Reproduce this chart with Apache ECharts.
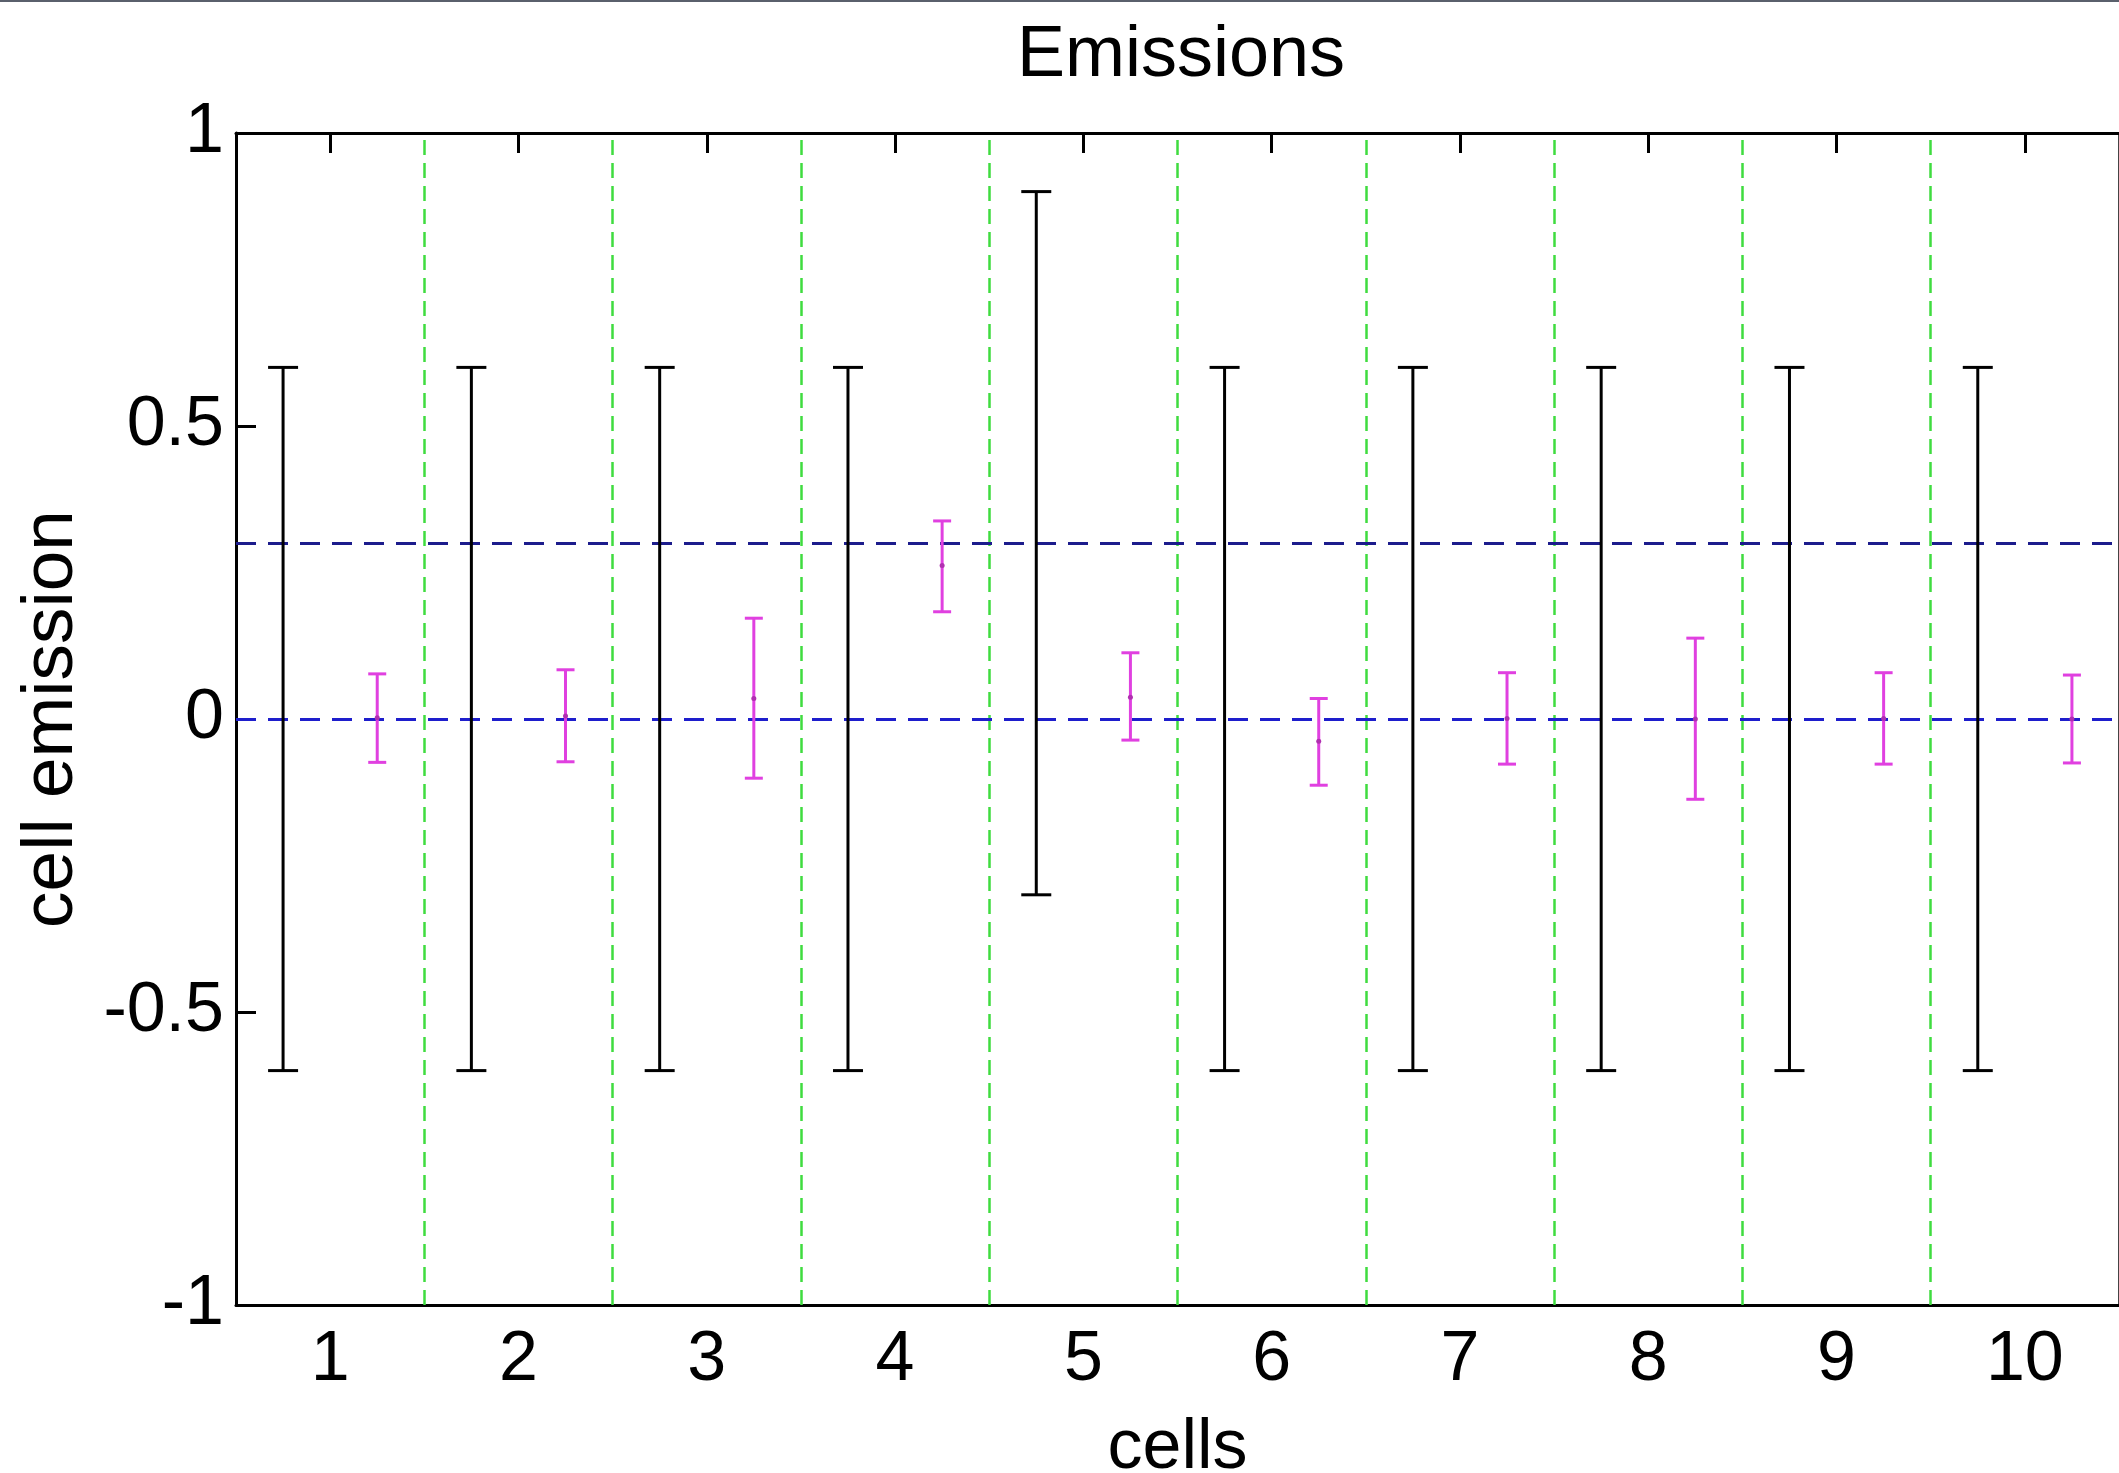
<!DOCTYPE html>
<html>
<head>
<meta charset="utf-8">
<script src="https://cdn.jsdelivr.net/npm/echarts@6/dist/echarts.min.js"></script>
<style>
  html, body { margin: 0; padding: 0; background: #ffffff; }
  #chart { width: 2119px; height: 1473px; }
</style>
</head>
<body>
<div id="chart"></div>
<script>
// ---- data ----
const cells = [1, 2, 3, 4, 5, 6, 7, 8, 9, 10];
const yTicks = [-1, -0.5, 0, 0.5, 1];
// prior ranges (black bars)
const priorLow  = [-0.6, -0.6, -0.6, -0.6, -0.3, -0.6, -0.6, -0.6, -0.6, -0.6];
const priorHigh = [ 0.6,  0.6,  0.6,  0.6,  0.9,  0.6,  0.6,  0.6,  0.6,  0.6];
// estimated emissions (magenta bars)
const estMean = [0.002, 0.005, 0.035, 0.262, 0.037, -0.038, 0.001, 0.000, 0.001, 0.000];
const estLow  = [-0.074, -0.073, -0.101, 0.183, -0.036, -0.113, -0.077, -0.137, -0.077, -0.075];
const estHigh = [ 0.077,  0.084,  0.172, 0.338,  0.113,  0.035,  0.079,  0.138,  0.079,  0.075];
// reference lines
const cellBoundaries = [1.5, 2.5, 3.5, 4.5, 5.5, 6.5, 7.5, 8.5, 9.5];
const trueLevel = 0.3;
const zeroLevel = 0;

const FONT = '"Liberation Sans", Arial, Helvetica, sans-serif';

const priorData = cells.map((c, i) => [c, priorLow[i], priorHigh[i]]);
const estData = cells.map((c, i) => [c, estLow[i], estHigh[i], estMean[i]]);

function barRenderer(offset, capHalf, color, width, withDot) {
  return function (params, api) {
    const x = api.value(0) + offset;
    const lo = api.coord([x, api.value(1)]);
    const hi = api.coord([x, api.value(2)]);
    const st = { stroke: color, lineWidth: width, fill: null };
    const children = [
      { type: 'line', shape: { x1: lo[0], y1: lo[1], x2: hi[0], y2: hi[1] }, style: st },
      { type: 'line', shape: { x1: hi[0] - capHalf, y1: hi[1], x2: hi[0] + capHalf, y2: hi[1] }, style: st },
      { type: 'line', shape: { x1: lo[0] - capHalf, y1: lo[1], x2: lo[0] + capHalf, y2: lo[1] }, style: st }
    ];
    if (withDot) {
      const m = api.coord([x, api.value(3)]);
      children.push({ type: 'circle', shape: { cx: m[0], cy: m[1], r: 2.5 }, style: { fill: '#b030b0' } });
    }
    return { type: 'group', children: children };
  };
}

const chart = echarts.init(document.getElementById('chart'));
chart.setOption({
  animation: false,
  backgroundColor: '#ffffff',
  title: {
    text: 'Emissions',
    left: 1012,
    top: 15,
    textStyle: { fontFamily: FONT, fontSize: 72, fontWeight: 'normal', color: '#000' }
  },
  graphic: [
    { type: 'rect', shape: { x: 0, y: 0, width: 2119, height: 2 }, style: { fill: '#5a606c' }, z: 100 }
  ],
  grid: { left: 236, top: 133, right: 0, bottom: 168, containLabel: false, outerBoundsMode: 'none' },
  xAxis: [
    {
      type: 'value', position: 'bottom', min: 0.5, max: 10.5,
      name: 'cells', nameLocation: 'middle', nameGap: 109,
      nameTextStyle: { fontFamily: FONT, fontSize: 70, color: '#000' },
      axisLine: { show: true, onZero: false, lineStyle: { color: '#000', width: 3 } },
      axisTick: { show: false },
      axisLabel: { customValues: cells, fontFamily: FONT, fontSize: 70, color: '#000', margin: 21 },
      splitLine: { show: false }
    },
    {
      type: 'value', position: 'top', min: 0.5, max: 10.5,
      axisLine: { show: true, onZero: false, lineStyle: { color: '#000', width: 3 } },
      axisTick: { show: true, inside: true, length: 20, customValues: cells, lineStyle: { color: '#000', width: 3 } },
      axisLabel: { show: false },
      splitLine: { show: false }
    }
  ],
  yAxis: [
    {
      type: 'value', position: 'left', min: -1, max: 1, interval: 0.5,
      name: 'cell emission', nameLocation: 'middle', nameGap: 148, nameRotate: 90,
      nameTextStyle: { fontFamily: FONT, fontSize: 73, color: '#000' },
      axisLine: { show: true, onZero: false, lineStyle: { color: '#000', width: 3 } },
      axisTick: { show: true, inside: true, length: 20, customValues: yTicks, lineStyle: { color: '#000', width: 3 } },
      axisLabel: { customValues: yTicks, fontFamily: FONT, fontSize: 70, color: '#000', margin: 12 },
      splitLine: { show: false }
    },
    {
      type: 'value', position: 'right', min: -1, max: 1, interval: 0.5,
      axisLine: { show: true, onZero: false, lineStyle: { color: '#444', width: 2 } },
      axisTick: { show: false },
      axisLabel: { show: false },
      splitLine: { show: false }
    }
  ],
  series: [
    {
      type: 'line', xAxisIndex: 0, yAxisIndex: 0, data: [], silent: true,
      markLine: {
        silent: true, symbol: ['none', 'none'], animation: false,
        label: { show: false },
        lineStyle: { color: '#3fdc3f', width: 2.5, type: [15, 8] },
        data: cellBoundaries.map(v => ({ xAxis: v }))
      }
    },
    {
      type: 'line', xAxisIndex: 0, yAxisIndex: 0, data: [], silent: true,
      markLine: {
        silent: true, symbol: ['none', 'none'], animation: false,
        label: { show: false },
        data: [
          { yAxis: trueLevel, lineStyle: { color: '#1c1c8c', width: 3, type: [20, 12] } },
          { yAxis: zeroLevel, lineStyle: { color: '#1e1ecc', width: 3, type: [20, 12] } }
        ]
      }
    },
    {
      type: 'custom', xAxisIndex: 0, yAxisIndex: 0, z: 5,
      renderItem: barRenderer(-0.25, 15, '#000000', 3, false),
      encode: { x: 0, y: [1, 2] },
      data: priorData
    },
    {
      type: 'custom', xAxisIndex: 0, yAxisIndex: 0, z: 6,
      renderItem: barRenderer(0.25, 9, '#e040e0', 3, true),
      encode: { x: 0, y: [1, 2] },
      data: estData
    }
  ]
});
</script>
</body>
</html>
